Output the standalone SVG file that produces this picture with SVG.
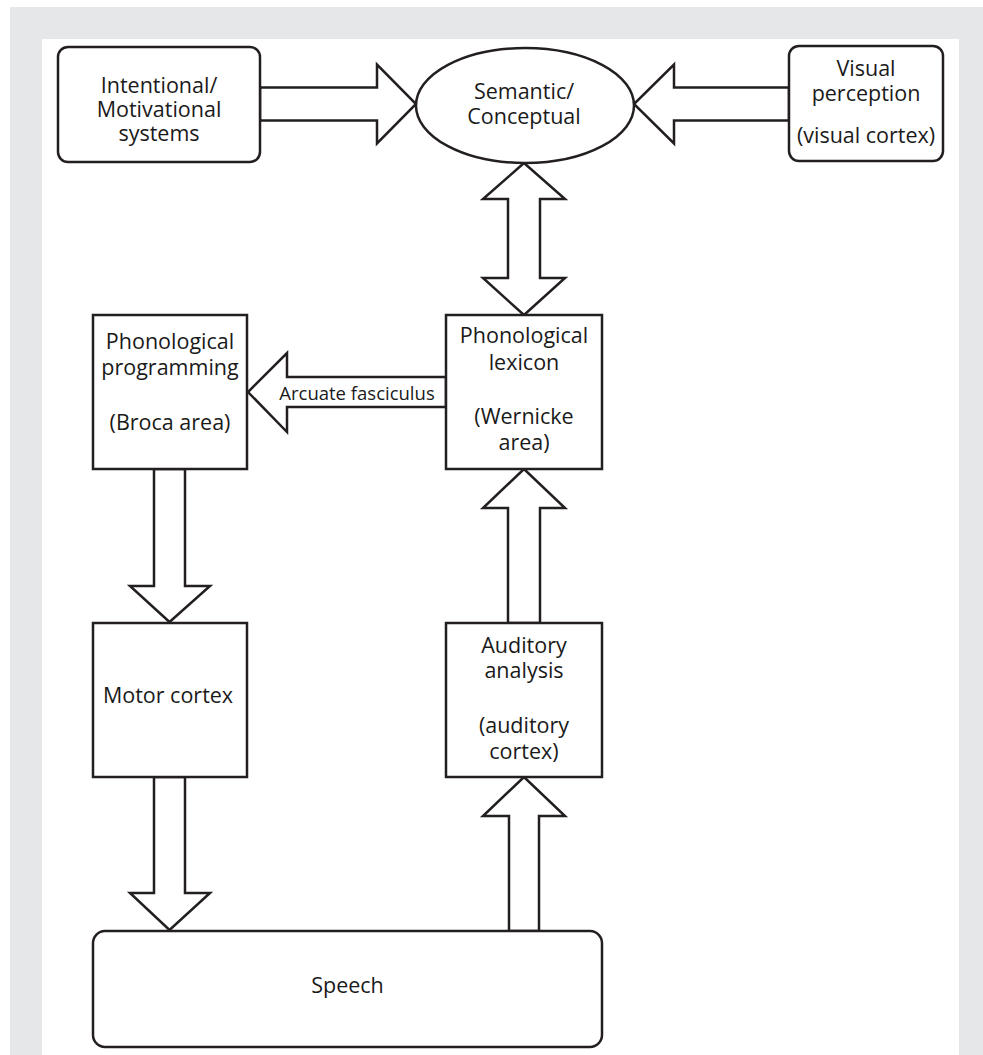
<svg xmlns="http://www.w3.org/2000/svg" width="983" height="1055" viewBox="0 0 983 1055">
<style>
.box{fill:#fff;stroke:#231f20;stroke-width:2.5}
.arr{fill:#fff;stroke:#231f20;stroke-width:2.5;stroke-linejoin:miter}
text{font-family:"Open Sans","Noto Sans",sans-serif;font-size:21.5px;fill:#1a1a1a;text-anchor:middle}
.small{font-size:18.5px}
</style>
<rect x="0" y="0" width="983" height="1055" fill="#fff"/>
<rect x="10" y="7" width="973" height="1048" fill="#e6e7e8"/>
<rect x="42" y="39" width="917" height="1016" fill="#fff"/>
<g id="connectors">
<polygon class="arr" points="260,87.5 377,87.5 377,64.5 416,104 377,143.5 377,120.5 260,120.5"/>
<polygon class="arr" points="789,87.5 674,87.5 674,64.5 634,104 674,143.5 674,120.5 789,120.5"/>
<polygon class="arr" points="524,163 565,199 540,199 540,278 565,278 524,315 483,278 508,278 508,199 483,199"/>
<polygon class="arr" points="446,377 287,377 287,353 248,392 287,432 287,407 446,407"/>
<polygon class="arr" points="154,469 185,469 185,586 210,586 169.5,622 130,586 154,586"/>
<polygon class="arr" points="154,777 185,777 185,893 210,893 169.5,930 130,893 154,893"/>
<polygon class="arr" points="508,623 540,623 540,508 565,508 524,469 483,508 508,508"/>
<polygon class="arr" points="509,931 539,931 539,816 565,816 524,777 483,816 509,816"/>
<text class="small" x="357" y="400">Arcuate fasciculus</text>
</g>
<g id="intentional">
<rect class="box" x="58" y="47" width="202" height="115" rx="10"/>
<text x="159" y="93">Intentional/</text>
<text x="159" y="117">Motivational</text>
<text x="159" y="141">systems</text>
</g>
<g id="semantic">
<ellipse class="box" cx="525" cy="105.5" rx="109" ry="57.5"/>
<text x="524" y="99">Semantic/</text>
<text x="524" y="124">Conceptual</text>
</g>
<g id="visual">
<rect class="box" x="789" y="46" width="154" height="115" rx="10"/>
<text x="866" y="76">Visual</text>
<text x="866" y="101">perception</text>
<text x="866" y="143">(visual cortex)</text>
</g>
<g id="programming">
<rect class="box" x="93" y="315" width="154" height="154"/>
<text x="170" y="349">Phonological</text>
<text x="170" y="375">programming</text>
<text x="170" y="430">(Broca area)</text>
</g>
<g id="lexicon">
<rect class="box" x="446" y="315" width="156" height="154"/>
<text x="524" y="343">Phonological</text>
<text x="524" y="370">lexicon</text>
<text x="524" y="424">(Wernicke</text>
<text x="524" y="450">area)</text>
</g>
<g id="motor">
<rect class="box" x="93" y="623" width="154" height="154"/>
<text x="168" y="703">Motor cortex</text>
</g>
<g id="auditory">
<rect class="box" x="446" y="623" width="156" height="154"/>
<text x="524" y="653">Auditory</text>
<text x="524" y="678">analysis</text>
<text x="524" y="733">(auditory</text>
<text x="524" y="759">cortex)</text>
</g>
<g id="speech">
<rect class="box" x="93" y="931" width="509" height="116" rx="12"/>
<text x="347.5" y="993">Speech</text>
</g>
</svg>
